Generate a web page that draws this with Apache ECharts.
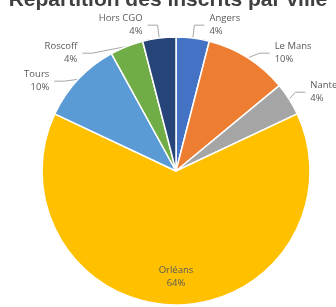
<!DOCTYPE html>
<html>
<head>
<meta charset="utf-8">
<script src="https://cdn.jsdelivr.net/npm/echarts@6/dist/echarts.min.js"></script>
<style>
  html, body { margin: 0; padding: 0; background: #fff; }
  #main { width: 336px; height: 307px; }
</style>
</head>
<body>
<div id="main"></div>
<script>
var villes = ['Angers', 'Le Mans', 'Nantes', 'Orléans', 'Tours', 'Roscoff', 'Hors CGO'];
var inscrits = [2, 5, 2, 32, 5, 2, 2];
var couleurs = ['#4472C4', '#ED7D31', '#A5A5A5', '#FFC000', '#5B9BD5', '#70AD47', '#264478'];

var myChart = echarts.init(document.getElementById('main'));

var donnees = villes.map(function (v, i) {
    var item = { name: v, value: inscrits[i], itemStyle: { color: couleurs[i] } };
    if (v === 'Orléans') {
        item.label = { position: 'inside' };
    }
    return item;
});

option = {
    title: {
        text: 'Répartition des inscrits par ville',
        left: 'center',
        top: -15,
        textStyle: {
            color: '#404040',
            fontSize: 21,
            fontWeight: 'bold',
            fontFamily: 'Liberation Sans'
        }
    },
    series: [
        {
            type: 'pie',
            center: [176, 171],
            radius: 134,
            startAngle: 90,
            clockwise: true,
            animation: false,
            itemStyle: {
                borderColor: '#fff',
                borderWidth: 1.5
            },
            label: {
                formatter: '{b}\n{d}%',
                color: '#595959',
                fontSize: 9.5,
                lineHeight: 13,
                fontFamily: 'Open Sans',
                overflow: 'none'
            },
            labelLine: {
                length: 13,
                length2: 10,
                lineStyle: { color: '#a6a6a6', width: 1 }
            },
            labelLayout: function (params) {
                if (params.dataIndex === 3) {
                    return { dy: 36 };
                }
                return {};
            },
            data: donnees
        }
    ]
};
myChart.setOption(option);
</script>
</body>
</html>
